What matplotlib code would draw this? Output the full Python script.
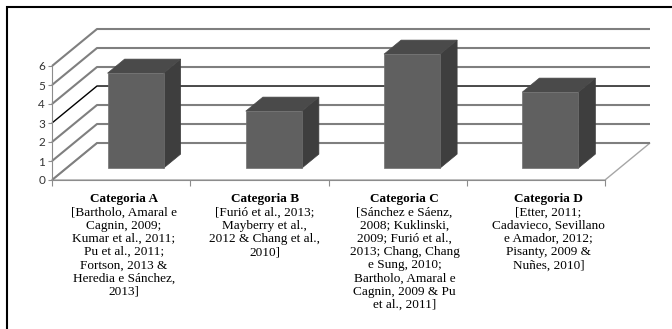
import matplotlib.pyplot as plt
from matplotlib.patches import Polygon, Rectangle

# data
categories = ['Categoria A', 'Categoria B', 'Categoria C', 'Categoria D']
values = [5, 3, 6, 4]
refs = [
    '[Bartholo, Amaral e\nCagnin, 2009;\nKumar et al., 2011;\nPu et al., 2011;\nFortson, 2013 &\nHeredia e Sánchez,\n2013]',
    '[Furió et al., 2013;\nMayberry et al.,\n2012 & Chang et al.,\n2010]',
    '[Sánchez e Sáenz,\n2008; Kuklinski,\n2009; Furió et al.,\n2013; Chang, Chang\ne Sung, 2010;\nBartholo, Amaral e\nCagnin, 2009 & Pu\net al., 2011]',
    '[Etter, 2011;\nCadavieco, Sevillano\ne Amador, 2012;\nPisanty, 2009 &\nNuñes, 2010]',
]
yticks = [0, 1, 2, 3, 4, 5, 6]

# oblique "3D" look: depth vector in data units
DX, DY = 0.3255, 1.947
z0, z1 = 0.32, 0.70
bw = 0.405

fig = plt.figure(figsize=(6.72, 3.29), dpi=100)
ax = fig.add_axes([52/672, 1 - 180/329, 553/672, 114/329])
ax.set_xlim(0, 4)
ax.set_ylim(0, 6)
ax.patch.set_visible(False)

n = len(categories)

# floor
floor = Polygon([(0, 0), (n, 0), (n + DX, DY), (DX, DY)], closed=True,
                fc='white', ec='#a6a6a6', lw=1.0, clip_on=False, zorder=1)
ax.add_patch(floor)

# side wall lines + back gridlines
for k in yticks:
    c = 'black' if k == 3 else '#7f7f7f'
    lw = 1.0 if k == 3 else 1.5
    ax.plot([0, DX, n + DX], [k, k + DY, k + DY], color=c, lw=lw,
            clip_on=False, zorder=2, solid_capstyle='butt')

# bars
for i, v in enumerate(values):
    x0 = i + 0.5 - bw / 2
    x1 = i + 0.5 + bw / 2
    fx0, fx1 = x0 + z0 * DX, x1 + z0 * DX
    fy0 = z0 * DY
    bx0, bx1 = x0 + z1 * DX, x1 + z1 * DX
    by0 = z1 * DY
    front = [(fx0, fy0), (fx1, fy0), (fx1, fy0 + v), (fx0, fy0 + v)]
    side = [(fx1, fy0), (bx1, by0), (bx1, by0 + v), (fx1, fy0 + v)]
    top = [(fx0, fy0 + v), (fx1, fy0 + v), (bx1, by0 + v), (bx0, by0 + v)]
    ax.add_patch(Polygon(side, closed=True, fc='#3e3e3e', ec='#3e3e3e', lw=0.5, clip_on=False, zorder=3))
    ax.add_patch(Polygon(top, closed=True, fc='#4a4a4a', ec='#4a4a4a', lw=0.5, clip_on=False, zorder=3))
    ax.add_patch(Polygon(front, closed=True, fc='#606060', ec='#707070', lw=0.5, clip_on=False, zorder=4))

# axes lines
for s in ['top', 'right']:
    ax.spines[s].set_visible(False)
ax.spines['bottom'].set_color('#8c8c8c')
ax.spines['left'].set_color('#8c8c8c')
ax.spines['bottom'].set_zorder(5)
ax.set_xticks(range(n + 1))
ax.set_xticklabels([])
ax.set_yticks(yticks)
ax.set_yticklabels([str(t) for t in yticks], fontfamily='Lato', fontsize=8.5, color='#333333')
ax.tick_params(axis='x', direction='out', length=4, color='#8c8c8c')
ax.tick_params(axis='y', direction='out', length=3, color='#8c8c8c', pad=2)

# category labels
shift = [0.02, 0.04, 0.05, 0.09]
for i, (cat, ref) in enumerate(zip(categories, refs)):
    xc = i + 0.5 + shift[i]
    ax.text(xc, -0.66, cat, ha='center', va='top', fontfamily='Liberation Serif',
            fontsize=9.5, fontweight='bold', clip_on=False)
    ax.text(xc, -1.4, ref, ha='center', va='top', fontfamily='Liberation Serif',
            fontsize=9.5, linespacing=1.13, clip_on=False)

# outer frame
fig.add_artist(Rectangle((6.5/672, -0.1), 1.2, 1 - 6.5/329 + 0.1, transform=fig.transFigure,
                         fill=False, ec='black', lw=1.5))

fig.savefig('out.png', dpi=100)
